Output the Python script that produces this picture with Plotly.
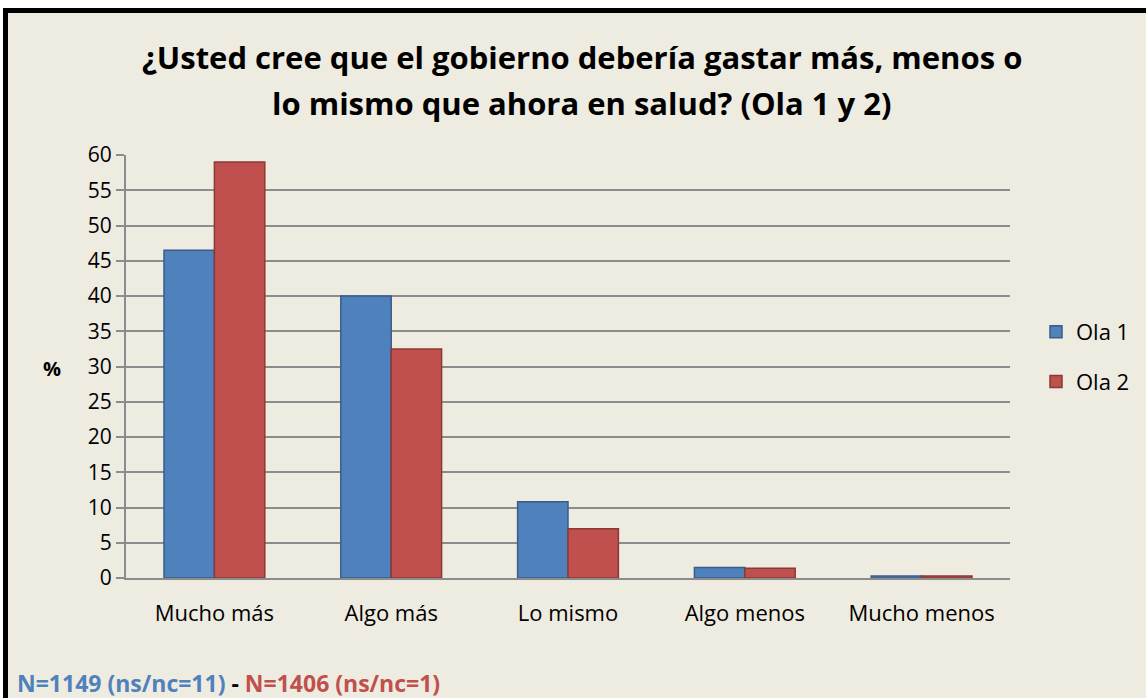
import plotly.graph_objects as go

categories = ["Mucho más", "Algo más", "Lo mismo", "Algo menos", "Mucho menos"]
ola1 = [46.5, 40.0, 10.8, 1.5, 0.3]
ola2 = [59.0, 32.5, 7.0, 1.4, 0.3]
series_names = ["Ola 1", "Ola 2"]
title_lines = ["¿Usted cree que el gobierno debería gastar más, menos o",
               "lo mismo que ahora en salud? (Ola 1 y 2)"]
y_ticks = list(range(0, 61, 5))

W, H = 1146, 698
L, R, T, B = 126, 1010, 155, 578
pw, ph = R - L, B - T

def px_x(x):
    return (x - L) / pw

def px_y(y):
    return (B - y) / ph

fig = go.Figure()
fig.add_trace(go.Bar(x=categories, y=ola1, name=series_names[0], legendgroup="a",
                     marker=dict(color="#4F81BD", line=dict(color="#385D8A", width=1.5))))
fig.add_trace(go.Bar(x=categories, y=ola2, name=series_names[1], legendgroup="b",
                     marker=dict(color="#C0504D", line=dict(color="#8C3836", width=1.5))))

font_main = "Open Sans"
fig.update_layout(
    width=W, height=H,
    margin=dict(l=L, r=W - R, t=T, b=H - B, pad=0, autoexpand=False),
    paper_bgcolor="white",
    plot_bgcolor="#E6E6E6",
    barmode="group",
    bargap=0.43,
    bargroupgap=0,
    showlegend=True,
    legend=dict(x=px_x(1036), y=px_y(357), xanchor="left", yanchor="middle",
                font=dict(family=font_main, size=22, color="black"),
                bgcolor="rgba(0,0,0,0)", traceorder="grouped", tracegroupgap=18,
                itemwidth=30),
    font=dict(family=font_main, color="black"),
    xaxis=dict(showgrid=False, showline=True, linecolor="#8C8C8C", linewidth=2,
               ticks="", tickfont=dict(size=22, family=font_main, color="black"),
               ticklabelstandoff=15, automargin=False),
    yaxis=dict(range=[0, 60], tickvals=y_ticks, showgrid=True, gridcolor="#8C8C8C",
               gridwidth=1.5, showline=True, linecolor="#8C8C8C", linewidth=2,
               ticks="outside", ticklen=8, tickcolor="#8C8C8C", tickwidth=1.5,
               tickfont=dict(size=21, family=font_main, color="black"), zeroline=False,
               automargin=False),
)

# chart frame
fig.add_shape(type="rect", xref="paper", yref="paper", layer="below",
              x0=px_x(5.5), x1=px_x(1170), y0=px_y(720), y1=px_y(10.5),
              fillcolor="#EEEBE0", line=dict(color="black", width=5))

for i, line in enumerate(title_lines):
    fig.add_annotation(text="<b>" + line + "</b>", xref="paper", yref="paper",
                       x=px_x(582), y=px_y(57 + 46 * i), xanchor="center", yanchor="middle",
                       showarrow=False, font=dict(family=font_main, size=31, color="black"))

fig.add_annotation(text="<b>%</b>", xref="paper", yref="paper", x=px_x(52), y=px_y(368),
                   xanchor="center", yanchor="middle", showarrow=False,
                   font=dict(family=font_main, size=20, color="black"))

foot = ("<b><span style='color:#4F81BD'>N=1149 (ns/nc=11)</span>"
        "<span style='color:black'> - </span>"
        "<span style='color:#C0504D'>N=1406 (ns/nc=1)</span></b>")
fig.add_annotation(text=foot, xref="paper", yref="paper", x=px_x(15), y=px_y(683),
                   xanchor="left", yanchor="middle", showarrow=False,
                   font=dict(family=font_main, size=23))

fig.write_html("out.html", config={"displayModeBar": False},
               post_script="document.body.style.margin='0';document.body.style.overflow='hidden';")
